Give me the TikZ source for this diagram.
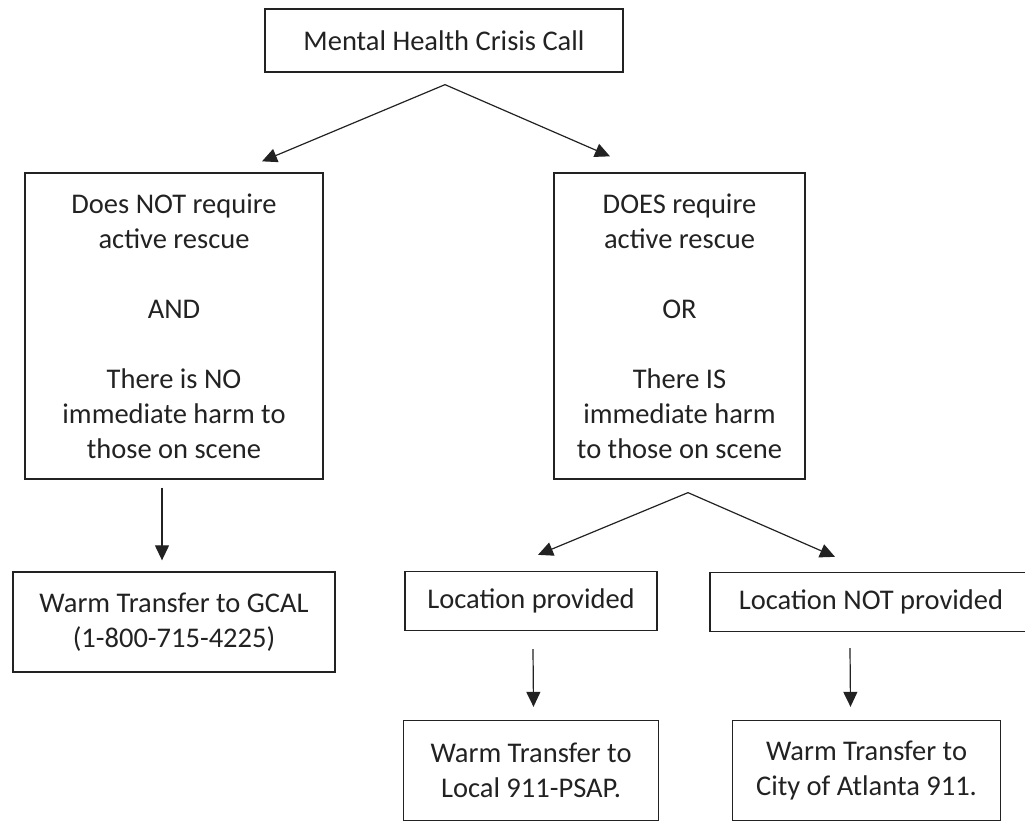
\documentclass[tikz,border=0pt]{standalone}
\usepackage{fontspec}
\setmainfont{Carlito}
\usetikzlibrary{arrows.meta}
\definecolor{ink}{HTML}{222222}
\tikzstyle{callbox} = [rectangle, 
minimum width=358pt, 
minimum height=63pt, 
text centered, 
draw=ink, 
line width=1.3pt]
\tikzstyle{condition} = [rectangle, 
minimum height=306pt, 
align=center, 
draw=ink, 
line width=1.3pt]
\tikzstyle{location} = [rectangle, 
minimum height=59pt, 
text centered, 
draw=ink, 
line width=1.3pt]
\tikzstyle{transfer} = [rectangle, 
minimum height=100pt, 
align=center, 
draw=ink, 
line width=1.3pt]
\tikzstyle{arrow} = [ink, line width=1.2pt, -{Triangle[length=15pt, width=14pt]}]

\begin{document}
\begin{tikzpicture}[x=1pt, y=1pt, node distance=300pt, text=ink, font=\fontsize{28.5}{35}\selectfont]
\useasboundingbox (0,0) rectangle (1025,822);

\node (call) [callbox] at (444,781.5) {Mental Health Crisis Call};
\node (noresc) [condition, minimum width=298pt, below of=call, xshift=-270pt, yshift=14.5pt] {Does NOT require\\active rescue\\[35pt]AND\\[35pt]There is NO\\immediate harm to\\those on scene};
\node (resc) [condition, minimum width=251pt, right of=noresc, xshift=205.5pt] {DOES require\\active rescue\\[35pt]OR\\[35pt]There IS\\immediate harm\\to those on scene};
\node (gcal) [transfer, minimum width=322pt, below of=noresc, yshift=4pt] {Warm Transfer to GCAL\\(1-800-715-4225)};
\node (locyes) [location, minimum width=252pt, below of=resc, xshift=-148.5pt, yshift=25pt] {Location provided};
\node (locno) [location, minimum width=322pt, right of=locyes, xshift=40pt, yshift=-1pt] {Location NOT provided};
\node (local) [transfer, minimum width=255pt, below of=locyes, yshift=130.5pt] {Warm Transfer to\\Local 911-PSAP.};
\node (atl) [transfer, minimum width=268pt, right of=local, xshift=35.5pt] {Warm Transfer to\\City of Atlanta 911.};

\draw [arrow] ([xshift=1pt, yshift=-12pt]call.south) -- ([xshift=88pt, yshift=11pt]noresc.north);
\draw [arrow] ([xshift=1pt, yshift=-12pt]call.south) -- ([xshift=-69.5pt, yshift=16pt]resc.north);
\draw [arrow] ([xshift=-12pt, yshift=-8pt]noresc.south) -- ([xshift=-12pt, yshift=11pt]gcal.north);
\draw [arrow] ([xshift=8.5pt, yshift=-13pt]resc.south) -- ([xshift=7pt, yshift=16pt]locyes.north);
\draw [arrow] ([xshift=8.5pt, yshift=-13pt]resc.south) -- ([xshift=-36pt, yshift=15pt]locno.north);
\draw [arrow] ([xshift=2pt, yshift=-18pt]locyes.south) -- ([xshift=2.5pt, yshift=13pt]local.north);
\draw [arrow] ([xshift=-21pt, yshift=-16pt]locno.south) -- ([xshift=-16pt, yshift=13pt]atl.north);
\end{tikzpicture}
\end{document}
